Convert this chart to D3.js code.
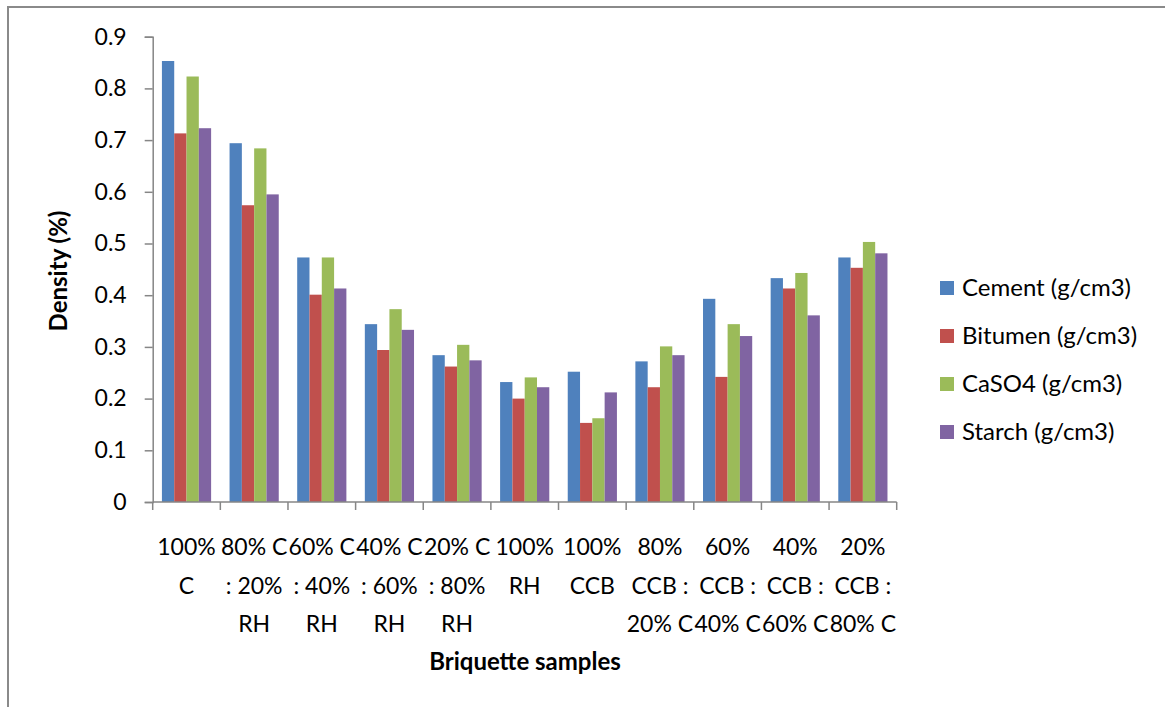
<!DOCTYPE html>
<html>
<head>
<meta charset="utf-8">
<script src="https://cdn.jsdelivr.net/npm/d3@7"></script>
<style>
  html, body { margin: 0; padding: 0; background: #fff; }
  svg { display: block; font-family: Lato, "Open Sans", sans-serif; }
</style>
</head>
<body>
<svg id="chart" width="1165" height="707"></svg>
<script>
// Briquette density by binder type
const categories = [
  "100% C", "80% C : 20% RH", "60% C : 40% RH", "40% C : 60% RH", "20% C : 80% RH",
  "100% RH", "100% CCB", "80% CCB : 20% C", "60% CCB : 40% C", "40% CCB : 60% C", "20% CCB : 80% C"
];
// wrapped category labels, one array of lines per category
const categoryLines = [
  ["100%", "C"],
  ["80% C", ": 20%", "RH"],
  ["60% C", ": 40%", "RH"],
  ["40% C", ": 60%", "RH"],
  ["20% C", ": 80%", "RH"],
  ["100%", "RH"],
  ["100%", "CCB"],
  ["80%", "CCB :", "20% C"],
  ["60%", "CCB :", "40% C"],
  ["40%", "CCB :", "60% C"],
  ["20%", "CCB :", "80% C"]
];
const seriesNames = ["Cement (g/cm3)", "Bitumen (g/cm3)", "CaSO4 (g/cm3)", "Starch (g/cm3)"];
const cement  = [0.853, 0.694, 0.473, 0.344, 0.284, 0.232, 0.252, 0.272, 0.393, 0.433, 0.473];
const bitumen = [0.713, 0.574, 0.401, 0.294, 0.262, 0.200, 0.153, 0.222, 0.242, 0.413, 0.453];
const caso4   = [0.823, 0.684, 0.473, 0.373, 0.304, 0.241, 0.162, 0.301, 0.344, 0.443, 0.503];
const starch  = [0.723, 0.595, 0.413, 0.333, 0.274, 0.222, 0.212, 0.284, 0.321, 0.361, 0.481];
const yTicks  = [0, 0.1, 0.2, 0.3, 0.4, 0.5, 0.6, 0.7, 0.8, 0.9];
const colors  = ["#4F81BD", "#C0504D", "#9BBB59", "#8064A2"];

const seriesValues = [cement, bitumen, caso4, starch];

const svg = d3.select("#chart");
const plot = { left: 152.7, right: 896.7, top: 36.7, bottom: 502 };

// outer frame (left and top edges visible)
svg.append("rect")
  .attr("x", 8).attr("y", 7)
  .attr("width", 1300).attr("height", 900)
  .attr("fill", "none").attr("stroke", "#8a8a8a").attr("stroke-width", 2);

const x = d3.scaleBand().domain(categories).range([plot.left, plot.right]).padding(0);
const xs = d3.scaleBand().domain(seriesNames).range([0, x.bandwidth()])
  .paddingInner(0).paddingOuter(0.75);
const y = d3.scaleLinear().domain([0, 0.9]).range([plot.bottom, plot.top]);

// bars
seriesNames.forEach((name, si) => {
  svg.append("g").selectAll("rect")
    .data(categories.map((c, i) => ({ c, v: seriesValues[si][i] })))
    .join("rect")
    .attr("x", d => x(d.c) + xs(name))
    .attr("y", d => y(d.v))
    .attr("width", xs.bandwidth())
    .attr("height", d => y(0) - y(d.v))
    .attr("fill", colors[si]);
});

// y axis
const yAxis = svg.append("g")
  .attr("transform", `translate(${plot.left},0)`)
  .call(d3.axisLeft(y).tickValues(yTicks).tickSize(8).tickPadding(18)
    .tickFormat(d => d === 0 ? "0" : d3.format(".1f")(d)));
yAxis.select(".domain").attr("stroke", "#868686").attr("stroke-width", 1.5);
yAxis.selectAll(".tick line").attr("stroke", "#868686").attr("stroke-width", 1.5);
yAxis.selectAll(".tick text")
  .attr("font-size", 23).attr("fill", "#000").attr("font-family", "Lato, sans-serif");

// x axis: ticks at category boundaries
const xAxisG = svg.append("g");
xAxisG.append("line")
  .attr("x1", plot.left).attr("x2", plot.right)
  .attr("y1", plot.bottom).attr("y2", plot.bottom)
  .attr("stroke", "#868686").attr("stroke-width", 1.5);
const boundaries = categories.map(c => x(c)).concat([x(categories[categories.length - 1]) + x.bandwidth()]);
xAxisG.selectAll("line.tk").data(boundaries).join("line")
  .attr("class", "tk")
  .attr("x1", d => d).attr("x2", d => d)
  .attr("y1", plot.bottom).attr("y2", plot.bottom + 8)
  .attr("stroke", "#868686").attr("stroke-width", 1.5);

// category labels
categories.forEach((c, i) => {
  const t = svg.append("text")
    .attr("text-anchor", "middle")
    .attr("font-size", 23).attr("fill", "#000")
    .attr("x", x(c) + x.bandwidth() / 2)
    .attr("y", 555);
  categoryLines[i].forEach((line, li) => {
    t.append("tspan")
      .attr("x", x(c) + x.bandwidth() / 2)
      .attr("y", 555 + li * 38.5)
      .text(line);
  });
});

// axis titles
svg.append("text")
  .attr("x", 525).attr("y", 670)
  .attr("text-anchor", "middle")
  .attr("font-size", 24).attr("font-weight", "bold").attr("fill", "#000")
  .text("Briquette samples");

svg.append("text")
  .attr("transform", "translate(67,271) rotate(-90)")
  .attr("text-anchor", "middle")
  .attr("font-size", 24).attr("font-weight", "bold").attr("fill", "#000")
  .text("Density (%)");

// legend
const legend = svg.append("g").attr("transform", "translate(940,288)");
seriesNames.forEach((name, i) => {
  const g = legend.append("g").attr("transform", `translate(0,${i * 48})`);
  g.append("rect")
    .attr("x", 0).attr("y", -7).attr("width", 14).attr("height", 14)
    .attr("fill", colors[i]);
  g.append("text")
    .attr("x", 22).attr("y", 0).attr("dy", "0.35em")
    .attr("font-size", 24).attr("fill", "#000")
    .text(name);
});
</script>
</body>
</html>
